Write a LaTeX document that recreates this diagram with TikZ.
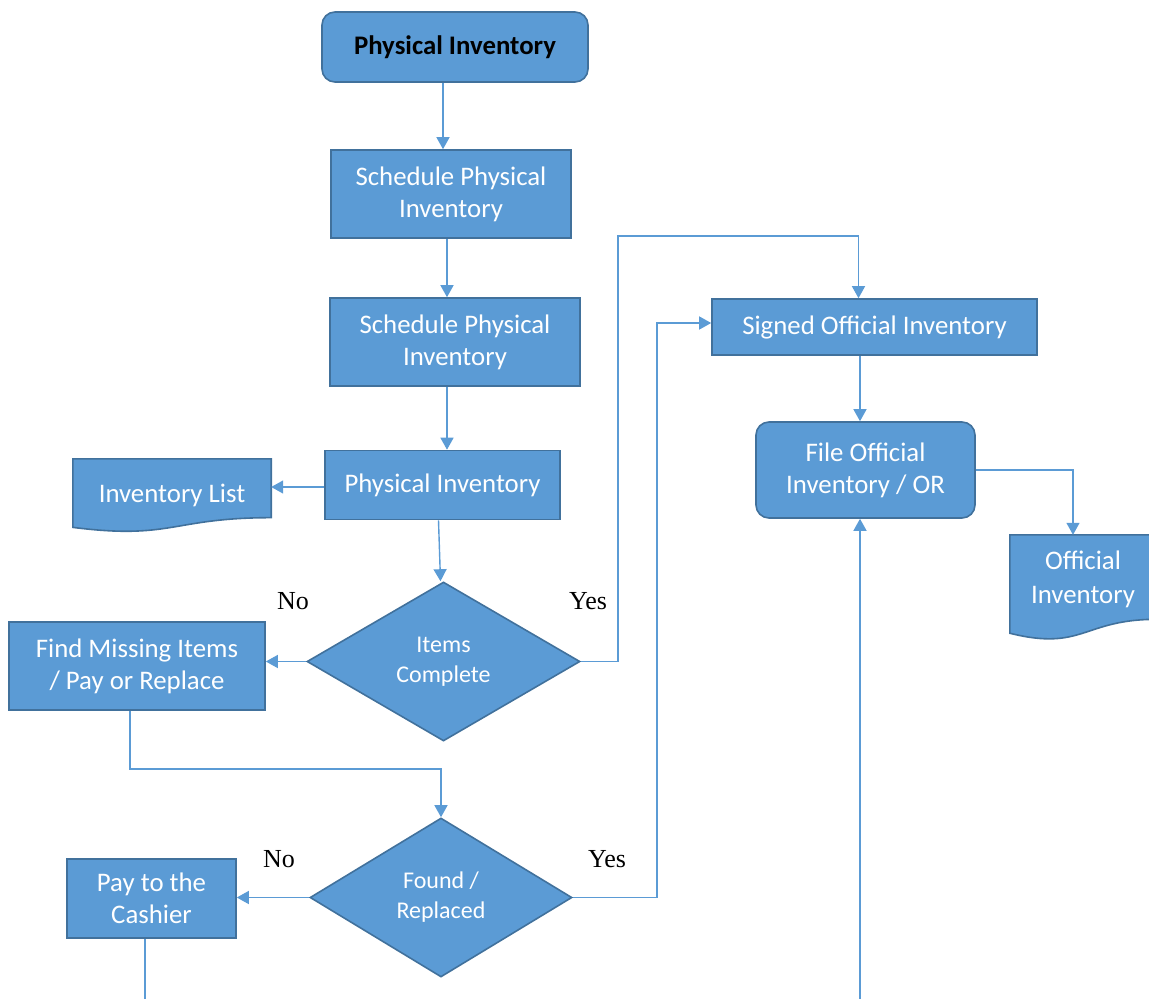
\documentclass[tikz,border=0pt]{standalone}
\usepackage{fontspec}
\setmainfont{Carlito}
\newfontfamily\answerfont{Liberation Serif}
\usetikzlibrary{shapes.geometric, arrows.meta, backgrounds, calc}
\definecolor{boxblue}{HTML}{5B9BD5}
\definecolor{edgeblue}{HTML}{41719C}
\tikzset{
  stepbox/.style={rectangle, draw=edgeblue, fill=boxblue, line width=1.6pt, text=white,
    align=center, inner sep=0pt, font=\fontsize{26.8}{32}\selectfont},
  roundbox/.style={stepbox, rounded corners=13pt},
  decision/.style={diamond, draw=edgeblue, fill=boxblue, line width=1.6pt, text=white,
    align=center, inner sep=0pt, font=\fontsize{24}{30}\selectfont},
  doctext/.style={rectangle, inner sep=0pt, text=white, align=center,
    font=\fontsize{26.8}{34}\selectfont},
  docfill/.style={fill=boxblue, draw=edgeblue, line width=1.6pt},
  answer/.style={font=\answerfont\fontsize{26}{30}\selectfont, inner sep=0pt},
  flow/.style={draw=boxblue, line width=1.4pt, -{Triangle[length=12pt, width=13pt]}},
  flowline/.style={draw=boxblue, line width=1.4pt}
}
\newcommand\docshape[1]{%
  \begin{scope}[on background layer]
    \path[docfill] (#1.north west) -- (#1.north east)
      -- ($(#1.north east)!0.802!(#1.south east)$)
      .. controls ($(#1.north)!0.802!(#1.south)$) and ($(#1.north)!1.107!(#1.south)$)
      .. ($(#1.north west)!0.934!(#1.south west)$) -- cycle;
  \end{scope}}

\begin{document}
\begin{tikzpicture}[x=1pt, y=-1pt]
  \useasboundingbox (0,0) rectangle (1149,999);
  \node[roundbox, text=black, font=\bfseries\fontsize{26.8}{32}\selectfont,
    minimum width=266, minimum height=70] (start) at (455,47) {Physical Inventory};
  \node[stepbox, minimum width=240, minimum height=88] (sched1) at (451,194) {Schedule Physical\\Inventory};
  \node[stepbox, minimum width=250, minimum height=88] (sched2) at (455,342) {Schedule Physical\\Inventory};
  \node[stepbox, minimum width=235, minimum height=69] (phys) at (442.5,485) {Physical Inventory};
  \node[doctext, minimum width=198, minimum height=73] (invlist) at (172,495.5) {Inventory List};
  \docshape{invlist}
  \node[decision, minimum width=273, minimum height=159] (check1) at (443.5,661.5) {Items\\Complete};
  \node[stepbox, minimum width=256, minimum height=88] (findmiss) at (137,666) {Find Missing Items\\/ Pay or Replace};
  \node[decision, minimum width=262, minimum height=159] (check2) at (441,897.5) {Found /\\Replaced};
  \node[stepbox, minimum width=169, minimum height=79] (pay) at (151.5,898.5) {Pay to the\\Cashier};
  \node[stepbox, minimum width=325, minimum height=56] (signed) at (874.5,327) {Signed Official Inventory};
  \node[roundbox, minimum width=219, minimum height=96] (file) at (865.5,470) {File Official\\Inventory / OR};
  \node[doctext, minimum width=146, minimum height=105] (official) at (1083,587.5)
    {\raisebox{2pt}[0pt][0pt]{\begin{tabular}{@{}c@{}}Official\\Inventory\end{tabular}}};
  \docshape{official}
  \node[answer] (no1) at (293,601) {No};
  \node[answer] (yes1) at (588,601) {Yes};
  \node[answer] (no2) at (279,859) {No};
  \node[answer] (yes2) at (607,859) {Yes};
  \coordinate (payend) at (145,1005);
  \coordinate (fileend) at (860,1005);
  \draw[flow] ([xshift=-12pt]start.south) -- ([xshift=-8pt]sched1.north);
  \draw[flow] ([xshift=-4pt]sched1.south) -- ([xshift=-8pt]sched2.north);
  \draw[flow] ([xshift=-8pt]sched2.south) -- ([xshift=4.5pt]phys.north);
  \draw[flow] ([yshift=-2pt]phys.west) -- ([yshift=-2pt]phys.west -| invlist.east);
  \draw[flow] ([xshift=-4pt]phys.south) -- ([xshift=-3pt]check1.north);
  \draw[flow] (check1.west) -- (check1.west -| findmiss.east);
  \draw[flow] (check1.east) -| (618,236) -| ([xshift=-16pt]signed.north);
  \draw[flow] ([xshift=-7pt]findmiss.south) -- ++(0,58) -| (check2.north);
  \draw[flow] (check2.west) -- (check2.west -| pay.east);
  \draw[flow] (check2.east) -- ++(84,0) |- ([yshift=4pt]signed.west);
  \draw[flow] ([xshift=-14.5pt]signed.south) -- ([xshift=-5.5pt]file.north);
  \draw[flow] (file.east) -| ([xshift=-10pt]official.north);
  \draw[flow] (fileend) -- ([xshift=-5.5pt]file.south);
  \draw[flowline] ([xshift=-6.5pt]pay.south) -- (payend);
\end{tikzpicture}
\end{document}
